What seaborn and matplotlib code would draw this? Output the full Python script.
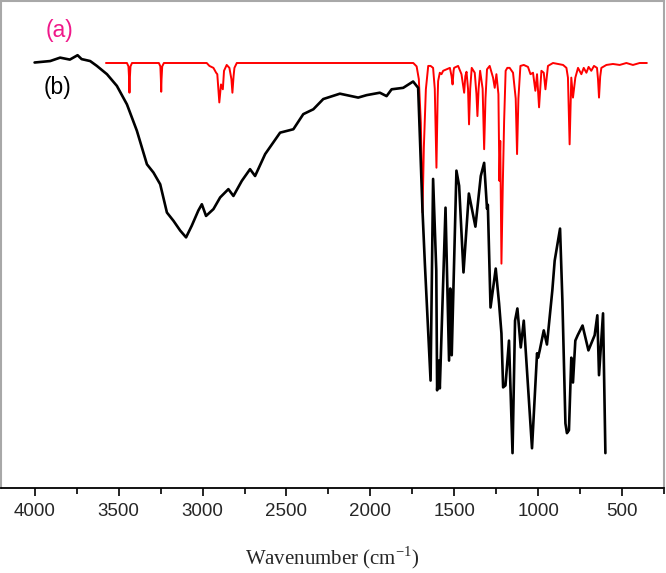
import matplotlib
matplotlib.use("Agg")
import matplotlib.pyplot as plt
import pandas as pd
import seaborn as sns
from matplotlib.ticker import MultipleLocator

# spectrum (a), red: wavenumber (cm-1) and transmittance (%)
wn_a = [3575, 3450, 3441, 3437, 3435, 3433, 3429, 3420,
        3260, 3251, 3248, 3246, 3244, 3240, 3230,
        2975, 2959, 2935, 2919, 2912, 2900, 2890, 2879, 2872, 2856, 2840, 2828, 2822, 2815, 2810, 2796,
        1745, 1725, 1712, 1700, 1690, 1682, 1670, 1656, 1642, 1627, 1617, 1607, 1600, 1597, 1587,
        1577, 1567, 1547, 1527, 1517, 1511, 1505, 1502, 1478, 1458, 1442, 1435, 1428, 1419, 1413,
        1406, 1397, 1379, 1369, 1363, 1356, 1347, 1332, 1323, 1315, 1306, 1290, 1270, 1260, 1250,
        1238, 1232, 1227, 1220, 1212, 1204, 1195, 1185, 1171, 1151, 1135, 1127, 1119, 1107, 1087,
        1062, 1047, 1032, 1018, 1008, 996, 982, 968, 958, 943, 913, 853, 833, 824, 814, 804, 794,
        780, 764, 744, 730, 714, 701, 685, 669, 651, 645, 639, 632, 625, 595, 556, 516, 476, 437,
        397, 354]
t_a = [87.3, 87.3, 86.6, 84.0, 81.2, 84.0, 86.6, 87.3,
       87.3, 86.6, 84.0, 81.4, 84.0, 86.6, 87.3,
       87.3, 86.7, 86.3, 85.3, 85.0, 79.2, 82.9, 81.9, 85.7, 86.9, 86.3, 84.0, 81.2, 84.6, 86.3, 87.3,
       87.3, 86.6, 84.0, 75.0, 56.6, 70.0, 81.9, 86.7, 86.7, 86.3, 82.0, 65.8, 80.0, 83.6, 85.3,
       85.0, 85.7, 86.0, 86.3, 84.6, 82.9, 85.7, 86.3, 86.7, 85.0, 81.2, 84.6, 85.5, 82.0, 74.7,
       82.0, 86.3, 85.3, 81.0, 76.4, 82.0, 85.7, 82.0, 69.6, 80.0, 86.0, 86.7, 84.3, 82.2, 85.0,
       80.9, 63.1, 71.3, 46.1, 62.1, 75.4, 85.7, 86.3, 86.3, 85.3, 80.0, 68.6, 80.0, 86.7, 86.9,
       86.5, 85.0, 85.3, 81.6, 85.0, 78.2, 85.7, 85.3, 81.9, 86.7, 87.3, 86.9, 86.3, 84.3, 70.6, 84.3, 80.2,
       84.3, 86.3, 85.0, 86.3, 85.3, 86.5, 85.7, 86.7, 86.3, 84.0, 80.2, 84.5, 86.3, 86.9, 87.1, 86.9, 87.3, 86.9,
       87.3, 87.3]

# spectrum (b), black
wn_b = [4000, 3907, 3848, 3790, 3744, 3720, 3669, 3629, 3569, 3510, 3450, 3391, 3331, 3292, 3252, 3212,
        3173, 3133, 3098, 3064, 3025, 3004, 2979, 2935, 2895, 2846, 2816, 2766, 2717, 2687,
        2627, 2538, 2459, 2400, 2340, 2281, 2182, 2073, 2023, 1944, 1904, 1874, 1805, 1746,
        1716, 1690, 1676, 1642, 1627, 1608, 1603, 1593, 1587, 1553, 1532, 1525, 1516, 1488,
        1472, 1446, 1414, 1375, 1343, 1323, 1306, 1301, 1285, 1254, 1234, 1220, 1210, 1196,
        1175, 1154, 1139, 1125, 1105, 1087, 1038, 1008, 1002, 992, 968, 949, 917, 903, 871,
        857, 839, 830, 818, 804, 794, 780, 766, 737, 702, 665, 649, 639, 615, 601]
t_b = [87.4, 87.7, 88.4, 88.0, 88.9, 88.1, 87.7, 86.7, 85.0, 82.6, 78.8, 73.4, 66.5, 64.8, 62.4, 56.6,
       54.9, 52.9, 51.5, 53.9, 57.0, 58.3, 55.9, 57.3, 59.7, 61.4, 60.0, 63.1, 65.5, 64.1,
       68.6, 73.0, 73.7, 76.8, 77.8, 79.9, 81.0, 80.2, 80.7, 81.2, 80.5, 81.9, 82.2, 83.5,
       82.2, 57.0, 46.1, 22.1, 63.5, 44.7, 20.1, 26.2, 20.5, 57.6, 26.2, 41.0, 27.3, 65.2,
       62.1, 44.3, 60.5, 53.7, 64.1, 66.8, 57.4, 58.2, 37.1, 45.1, 37.9, 31.8, 20.7, 21.1,
       30.3, 7.2, 34.4, 36.9, 28.9, 34.4, 8.2, 27.7, 26.8, 28.3, 32.4, 29.5, 40.6, 46.7, 53.3,
       38.5, 13.3, 11.3, 11.9, 26.8, 21.7, 30.3, 31.4, 33.4, 28.3, 31.4, 35.5, 23.2, 35.9, 7.2]

df_a = pd.DataFrame({"wavenumber": wn_a, "T": t_a})
df_b = pd.DataFrame({"wavenumber": wn_b, "T": t_b})

sns.set_theme(style="white")
plt.rcParams["font.family"] = ["Liberation Sans", "DejaVu Sans"]
plt.rcParams["mathtext.fontset"] = "custom"
plt.rcParams["mathtext.rm"] = "Liberation Serif"

fig = plt.figure(figsize=(6.66, 5.73), dpi=100)
ax = fig.add_axes([0.0015, 0.148, 0.996, 0.85])

sns.lineplot(data=df_a, x="wavenumber", y="T", sort=False, color="#ff0000",
             linewidth=1.4, ax=ax, zorder=2)
sns.lineplot(data=df_b, x="wavenumber", y="T", sort=False, color="black",
             linewidth=1.9, ax=ax, zorder=3)

ax.set_xlim(4200, 250)
ax.set_ylim(0, 100)

ax.xaxis.set_major_locator(MultipleLocator(500))
ax.xaxis.set_minor_locator(MultipleLocator(250))
ax.tick_params(axis="x", which="major", direction="out", length=6, width=1.2,
               color="black", labelsize=13.5, bottom=True, pad=5)
ax.tick_params(axis="x", which="minor", direction="out", length=4, width=1.2,
               color="black", bottom=True)
ax.set_yticks([])
ax.set_ylabel("")

for side in ["left", "top", "right"]:
    ax.spines[side].set_color("#a8a8a8")
    ax.spines[side].set_linewidth(1.5)
ax.spines["bottom"].set_color("black")
ax.spines["bottom"].set_linewidth(1.3)

ax.set_xlabel("Wavenumber (cm$^{-1}$)", family="Liberation Serif", fontsize=15,
              labelpad=17)

fig.text(0.090, 0.946, "(a)", color="#f0188a", fontsize=16.5, ha="center", va="center")
fig.text(0.086, 0.848, "(b)", color="black", fontsize=16.5, ha="center", va="center")

fig.savefig("out.png", dpi=100)
